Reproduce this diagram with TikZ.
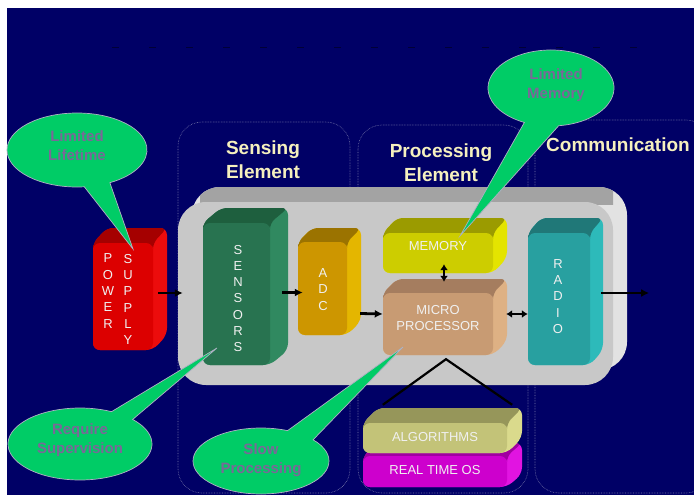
\documentclass[tikz,border=0pt]{standalone}
\usepackage{fontspec}
\setmainfont{Liberation Sans}
\usetikzlibrary{arrows.meta,calc}
\definecolor{navy}{RGB}{0,0,102}
\definecolor{dashc}{RGB}{0,0,55}
\definecolor{titlec}{RGB}{245,240,190}
\definecolor{callg}{RGB}{0,204,102}
\definecolor{callt}{RGB}{122,104,152}
\definecolor{calllin}{RGB}{176,176,196}
\definecolor{colline}{RGB}{120,120,170}
\definecolor{lblc}{RGB}{240,240,240}
\definecolor{panF}{RGB}{200,200,200}
\definecolor{panT}{RGB}{163,163,163}
\definecolor{panS}{RGB}{226,226,226}
\definecolor{pwF}{RGB}{220,0,0}\definecolor{pwT}{RGB}{165,0,0}\definecolor{pwS}{RGB}{236,12,12}
\definecolor{snF}{RGB}{40,115,80}\definecolor{snT}{RGB}{30,95,62}\definecolor{snS}{RGB}{48,137,96}
\definecolor{adF}{RGB}{205,150,0}\definecolor{adT}{RGB}{155,115,0}\definecolor{adS}{RGB}{228,182,0}
\definecolor{meF}{RGB}{205,205,0}\definecolor{meT}{RGB}{155,155,0}\definecolor{meS}{RGB}{228,228,0}
\definecolor{miF}{RGB}{200,155,115}\definecolor{miT}{RGB}{165,125,95}\definecolor{miS}{RGB}{222,177,132}
\definecolor{raF}{RGB}{40,160,160}\definecolor{raT}{RGB}{32,120,120}\definecolor{raS}{RGB}{45,186,186}
\definecolor{alF}{RGB}{195,195,120}\definecolor{alT}{RGB}{150,150,90}\definecolor{alS}{RGB}{218,218,140}
\definecolor{rtF}{RGB}{205,0,205}\definecolor{rtT}{RGB}{160,0,160}\definecolor{rtS}{RGB}{225,20,225}
% block: name(prefix), x1, y1, x2, y2, dx, dy
\newcommand\blk[7]{%
  \fill[#1S, rounded corners=7pt] (#2,#5) -- (#2,#3) -- (#2+#6,#3-#7) -- (#4+#6,#3-#7) -- (#4+#6,#5-#7) -- (#4,#5) -- cycle;
  \fill[#1T, rounded corners=6pt] (#2,#3+8) -- (#2,#3) -- (#2+#6,#3-#7) -- (#4+#6,#3-#7) -- (#4,#3) -- (#4,#3+8) -- cycle;
  \node[fill=#1F, rounded corners=7pt, inner sep=0pt, minimum width={#4pt-#2pt}, minimum height={#5pt-#3pt}] (#1) at ({(#2+#4)/2},{(#3+#5)/2}) {};
}
\tikzset{
  colbox/.style={draw=colline, densely dotted, line width=0.6pt, rounded corners=24pt},
  title/.style={text=titlec, font=\bfseries\fontsize{19}{24}\selectfont, align=center, inner sep=0pt},
  lbl/.style={text=lblc, font=\fontsize{13}{16}\selectfont, align=center, inner sep=0pt},
  vlbl/.style={text=lblc, font=\fontsize{13}{16.3}\selectfont, align=center, inner sep=0pt},
  arr/.style={-{Latex[length=8pt,width=8pt]}, line width=2.8pt, black},
  darr/.style={{Latex[length=6pt,width=8pt]}-{Latex[length=6pt,width=8pt]}, line width=2.8pt, black},
  callout/.style={fill=callg, draw=calllin, line width=0.7pt},
  calltext/.style={text=callt, font=\bfseries\fontsize{15}{19}\selectfont, align=center, inner sep=0pt},
}
\begin{document}
\begin{tikzpicture}[x=1pt,y=-1pt]
\useasboundingbox (0,0) rectangle (694,495);
\fill[white] (0,0) rectangle (694,495);
\fill[navy] (7,8) rectangle (694,495);
\draw[dashc, line width=0.8pt, dash pattern=on 7pt off 30pt] (112,47) -- (660,47);

% columns
\draw[colbox] (178,122) rectangle (350,493);
\draw[colbox] (358,125) rectangle (528,493);
\draw[colbox] (535,120) rectangle (710,493);

% titles
\node[title] (tS) at (263,160) {Sensing\\Element};
\node[title] (tP) at (441,163) {Processing\\Element};
\node[title] (tC) at (618,145) {Communication};

% panel
\fill[panS, rounded corners=28pt] (192,187) rectangle (627,370);
\begin{scope}
  \clip (200,180) rectangle (613,204);
  \fill[panT, rounded corners=28pt] (192,187) rectangle (627,370);
\end{scope}
\node[fill=panF, rounded corners=28pt, inner sep=0pt, minimum width=435pt, minimum height=183pt] (panel) at (395.5,293.5) {};

% blocks
\blk{pw}{93}{243}{153}{350}{14}{15}
\blk{sn}{203}{223}{270}{365}{18}{15}
\blk{ad}{298}{242}{347}{335}{14}{14}
\blk{me}{383}{233}{493}{273}{14}{15}
\blk{mi}{383}{293}{493}{355}{14}{14}
\blk{ra}{528}{233}{590}{365}{13}{15}
\blk{rt}{363}{456}{507}{487}{15}{13}
\blk{al}{363}{423}{507}{453}{15}{15}

% labels
\node[vlbl] (tPow) at (108,291) {P\\O\\W\\E\\R};
\node[vlbl] (tSup) at (128,299.5) {S\\U\\P\\P\\L\\Y};
\node[vlbl] (tSen) at (238,298.5) {S\\E\\N\\S\\O\\R\\S};
\node[vlbl] (tAdc) at (323,289.5) {A\\D\\C};
\node[vlbl] (tRad) at (558,296.5) {R\\A\\D\\I\\O};
\node[lbl] (tMem) at (438,246) {MEMORY};
\node[lbl] (tMic) at (438,318) {MICRO\\PROCESSOR};
\node[lbl] (tAlg) at (435,437) {ALGORITHMS};
\node[lbl] (tRto) at (435,470) {REAL TIME OS};

% arrows
\draw[arr] ($(pw.east)+(5,-3.5)$) -- ($(panel.west)+(5,-0.5)$);
\draw[arr] ($(sn.east)+(12,-1.5)$) -- ($(ad.west)+(5,4)$);
\draw[arr] ($(ad.east)+(13,25)$) -- ($(mi.west)+(0,-10)$);
\draw[darr] ($(me.south)+(6,-9)$) -- ($(mi.north)+(6,-11)$);
\draw[darr] ($(mi.east)+(13,-10)$) -- ($(ra.west)+(0,15)$);
\draw[arr] ($(ra.east)+(11,-6)$) -- ($(ra.east)+(59,-6)$);

% lines to software
\coordinate (apex) at ($(mi.south)+(8,4)$);
\draw[black, line width=2.2pt] ($(al.north west)+(20,-18)$) -- (apex) -- ($(al.north east)+(5,-18)$);

% callouts
\coordinate (tipLL) at (133,249);
\coordinate (tipLM) at (460,236);
\coordinate (tipRS) at (217,348);
\coordinate (tipSP) at (403,347);
\filldraw[callout] (77,150) ++(84:70 and 37) arc[start angle=84, end angle=422, x radius=70, y radius=37] -- (tipLL) -- cycle;
\filldraw[callout] (551,88) ++(115:63 and 38) arc[start angle=115, end angle=443, x radius=63, y radius=38] -- (tipLM) -- cycle;
\filldraw[callout] (80,444) ++(-43:72 and 36) arc[start angle=-43, end angle=296, x radius=72, y radius=36] -- (tipRS) -- cycle;
\filldraw[callout] (261,461) ++(-40:68 and 33) arc[start angle=-40, end angle=293, x radius=68, y radius=33] -- (tipSP) -- cycle;
\node[calltext] (cLL) at (77,146) {Limited\\Lifetime};
\node[calltext] (cLM) at (556,85) {Limited\\Memory};
\node[calltext] (cRS) at (80,440) {Require\\Supervision};
\node[calltext] (cSP) at (261,460) {Slow\\Processing};
\end{tikzpicture}
\end{document}
